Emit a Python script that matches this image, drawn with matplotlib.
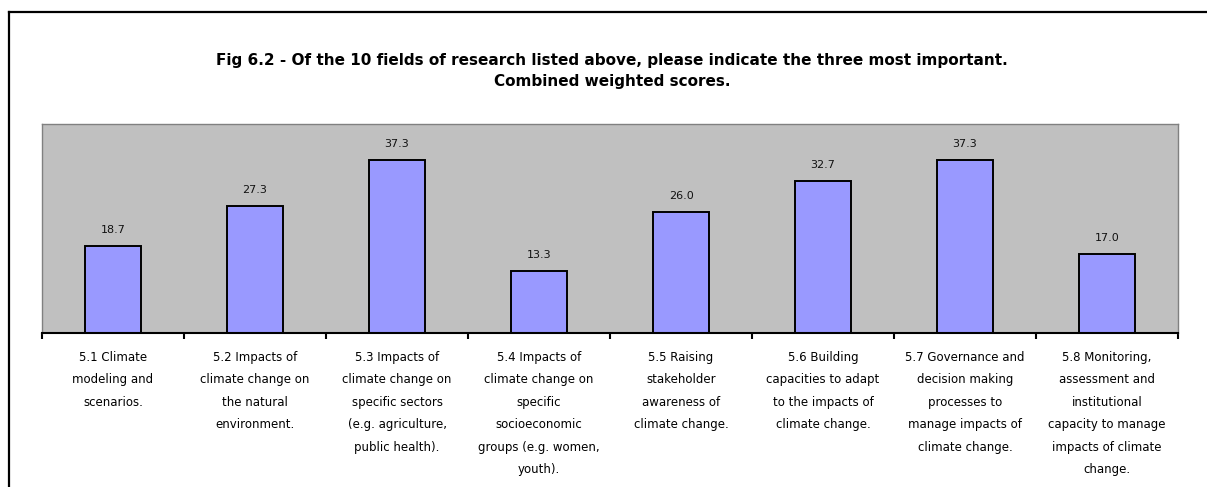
import numpy as np
import matplotlib.pyplot as plt
from matplotlib.lines import Line2D

categories = [
    "5.1 Climate\nmodeling and\nscenarios.",
    "5.2 Impacts of\nclimate change on\nthe natural\nenvironment.",
    "5.3 Impacts of\nclimate change on\nspecific sectors\n(e.g. agriculture,\npublic health).",
    "5.4 Impacts of\nclimate change on\nspecific\nsocioeconomic\ngroups (e.g. women,\nyouth).",
    "5.5 Raising\nstakeholder\nawareness of\nclimate change.",
    "5.6 Building\ncapacities to adapt\nto the impacts of\nclimate change.",
    "5.7 Governance and\ndecision making\nprocesses to\nmanage impacts of\nclimate change.",
    "5.8 Monitoring,\nassessment and\ninstitutional\ncapacity to manage\nimpacts of climate\nchange.",
]
scores = [18.7, 27.3, 37.3, 13.3, 26.0, 32.7, 37.3, 17.0]

title = ("Fig 6.2 - Of the 10 fields of research listed above, please indicate the three most important.\n"
         "Combined weighted scores.")

W, H = 1207, 487
fig = plt.figure(figsize=(W / 100, H / 100), dpi=100)
ax = fig.add_axes([42 / W, 1 - 333 / H, (1178 - 42) / W, (333 - 124) / H])
ax.set_facecolor("#C0C0C0")

x = np.arange(len(scores))
bars = ax.bar(x, scores, width=0.4, color="#9999FF", edgecolor="black", linewidth=1.4)
for b, v in zip(bars, scores):
    ax.annotate(f"{v:.1f}", (b.get_x() + b.get_width() / 2, v),
                xytext=(0, 8), textcoords="offset points",
                ha="center", va="bottom", fontsize=8, color="#111111")

ax.set_xlim(-0.5, len(scores) - 0.5)
ax.set_ylim(0, 45)
ax.set_yticks([])

# category labels on major ticks, separators on minor ticks
ax.set_xticks(x)
ax.set_xticklabels(categories, fontsize=8.5, linespacing=1.94, va="top")
ax.tick_params(axis="x", which="major", length=0, pad=13)
ax.set_xticks(np.arange(len(scores) + 1) - 0.5, minor=True)
ax.tick_params(axis="x", which="minor", length=4, width=1.5, color="black")

for side in ["top", "right", "left"]:
    ax.spines[side].set_color("#808080")
    ax.spines[side].set_linewidth(1)
ax.spines["bottom"].set_color("black")
ax.spines["bottom"].set_linewidth(1.5)

fig.text(612 / W, 1 - 71 / H, title, ha="center", va="center",
         fontsize=11, fontweight="bold", linespacing=1.55)

# outer chart frame
fig.add_artist(Line2D([9 / W, 9 / W], [0, 1 - 12 / H], color="black", linewidth=1.6))
fig.add_artist(Line2D([9 / W, 1], [1 - 12 / H, 1 - 12 / H], color="black", linewidth=1.6))

fig.savefig("out.png", dpi=100)
